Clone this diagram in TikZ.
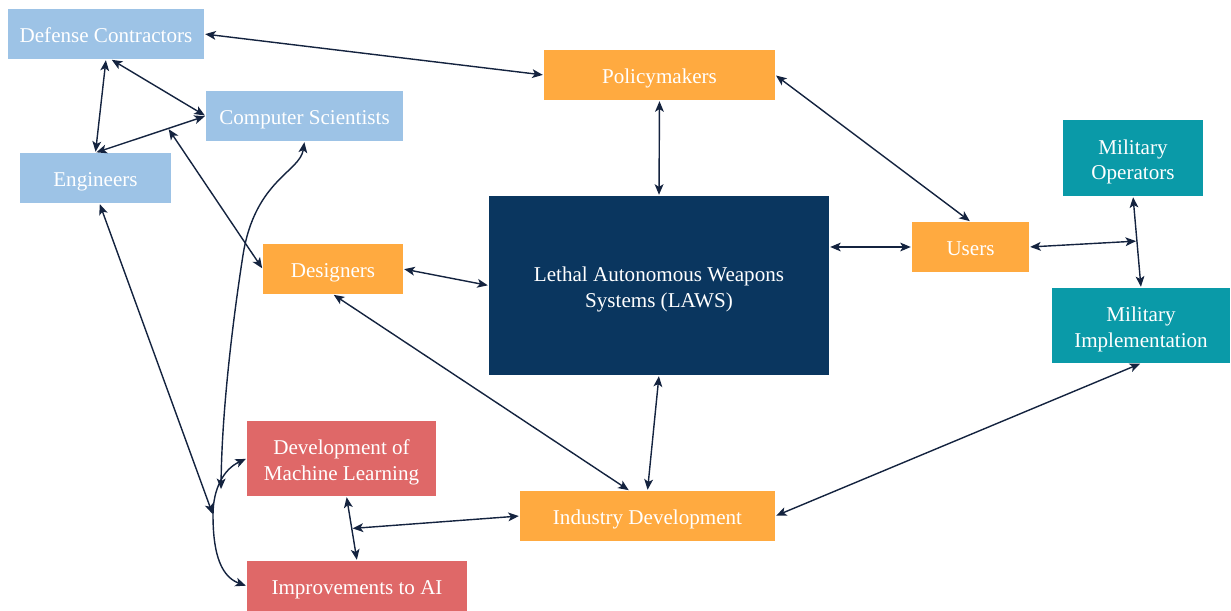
\documentclass[tikz,border=0pt]{standalone}
\usepackage{fontspec}
\setmainfont{Liberation Serif}
\usetikzlibrary{arrows.meta,calc}
\definecolor{lblue}{HTML}{9DC3E6}
\definecolor{orng}{HTML}{FFAA40}
\definecolor{navy}{HTML}{0A365F}
\definecolor{teal2}{HTML}{0A9AA8}
\definecolor{redbox}{HTML}{DF6868}
\definecolor{linkc}{HTML}{14233F}
\newcommand\mytopstrut{\rule{0pt}{12.8pt}}
\newcommand\mybotstrut{\rule[-2.6pt]{0pt}{0pt}}
\begin{document}
\begin{tikzpicture}[x=0.02cm,y=-0.02cm,
  box/.style={rectangle, inner sep=0pt, align=center, text=white,
    font=\fontsize{12}{14.3}\selectfont,
    execute at begin node={\mytopstrut},
    execute at end node={\mybotstrut}},
  link/.style={draw=linkc, line width=0.8pt,
    {Stealth[length=6pt,width=5pt,inset=1.5pt]}-{Stealth[length=6pt,width=5pt,inset=1.5pt]},
    shorten >=0.5pt, shorten <=0.5pt}]
\useasboundingbox (0,0) rectangle (1231,611);
% nodes
\node[box, fill=lblue, minimum width=3.92cm, minimum height=1cm] (dc) at (106,34) {Defense Contractors};
\node[box, fill=lblue, minimum width=3.94cm, minimum height=1cm] (cs) at (304.5,116) {Computer Scientists};
\node[box, fill=lblue, minimum width=3.02cm, minimum height=1cm] (eng) at (95.5,178) {Engineers};
\node[box, fill=orng, minimum width=4.62cm, minimum height=1cm] (pol) at (659.5,75) {Policymakers};
\node[box, fill=orng, minimum width=2.8cm, minimum height=1cm] (des) at (333,269) {Designers};
\node[box, fill=navy, minimum width=6.8cm, minimum height=3.58cm] (laws) at (659,285.5) {\mytopstrut Lethal Autonomous Weapons\\Systems (LAWS)\mybotstrut};
\node[box, fill=orng, minimum width=2.34cm, minimum height=1cm] (users) at (970.5,247) {Users};
\node[box, fill=teal2, minimum width=2.8cm, minimum height=1.52cm] (mo) at (1133,158) {\mytopstrut Military\\Operators\mybotstrut};
\node[box, fill=teal2, minimum width=3.56cm, minimum height=1.5cm] (mi) at (1141,325.5) {\mytopstrut Military\\Implementation\mybotstrut};
\node[box, fill=redbox, minimum width=3.78cm, minimum height=1.5cm] (ml) at (341.5,458.5) {\mytopstrut Development of\\Machine Learning\mybotstrut};
\node[box, fill=redbox, minimum width=4.4cm, minimum height=1cm] (ai) at (357,586) {Improvements to AI};
\node[box, fill=orng, minimum width=5.1cm, minimum height=1cm] (ind) at (647.5,516) {Industry Development};
% junction coordinates
\coordinate (p5) at ($(eng.north)!0.66!(cs.west)$);
\coordinate (jc) at (213,515);
\coordinate (jb) at (221,490);
\coordinate (jm) at ($(mo.south)!0.49!(mi.north)$);
\coordinate (jd) at ($([xshift=0.1cm]ml.south)!0.5!(ai.north)$);
% connectors
\draw[link] (dc.east) -- (pol.west);
\draw[link] (dc.south) -- (eng.north);
\draw[link] ([xshift=0.1cm]dc.south) -- (cs.west);
\draw[link] (eng.north) -- (cs.west);
\draw[link] (p5) -- (des.west);
\draw[link] (ml.west) to[out=205,in=90] (jc) to[out=-90,in=160] (ai.west);
\draw[link] ([xshift=0.08cm]eng.south) -- (jc);
\draw[link] (cs.south) .. controls (300,172) and (255,180) .. (243,255)
  .. controls (236,300) and (222,400) .. (jb);
\draw[link] (des.east) -- (laws.west);
\draw[link] (pol.south) -- (laws.north);
\draw[link] (pol.east) -- (users.north);
\draw[link] (users.west -| laws.east) -- (users.west);
\draw[link] (users.east) -- (jm);
\draw[link] (mo.south) -- (mi.north);
\draw[link] (mi.south) -- (ind.east);
\draw[link] (des.south) -- ([xshift=-0.36cm]ind.north);
\draw[link] (laws.south) -- (ind.north);
\draw[link] ([xshift=0.1cm]ml.south) -- (ai.north);
\draw[link] (ind.west) -- (jd);
\end{tikzpicture}
\end{document}
